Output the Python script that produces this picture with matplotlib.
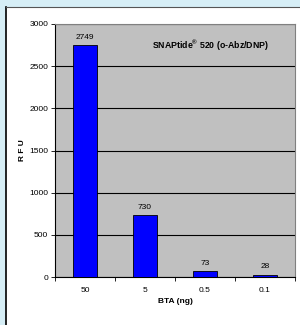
import matplotlib
matplotlib.use("Agg")
import matplotlib.pyplot as plt
from matplotlib.patches import Rectangle

categories = ["50", "5", "0.5", "0.1"]
values = [2749, 730, 73, 28]
y_ticks = [0, 500, 1000, 1500, 2000, 2500, 3000]

plt.rcParams['font.family'] = ['Liberation Sans', 'DejaVu Sans']
plt.rcParams['mathtext.fontset'] = 'custom'
plt.rcParams['mathtext.rm'] = 'Liberation Sans:bold'
plt.rcParams['mathtext.bf'] = 'Liberation Sans:bold'

W, H = 300, 325
fig = plt.figure(figsize=(3, 3.25), dpi=100)
fig.patch.set_facecolor('#d6eef6')
# white panel
fig.patches.append(Rectangle((6 / W, 0), 1 - 6 / W, 1 - 7 / H, transform=fig.transFigure,
                             facecolor='white', edgecolor='none', zorder=-10))
fig.lines.append(plt.Line2D([6 / W, 6 / W], [0, 1 - 7 / H], transform=fig.transFigure,
                            color='black', lw=1.2, zorder=-9))
fig.lines.append(plt.Line2D([6 / W, 1], [1 - 7 / H, 1 - 7 / H], transform=fig.transFigure,
                            color='#555555', lw=0.8, zorder=-9))

left, right, top, bottom = 55, 295, 24, 277
ax = fig.add_axes([left / W, 1 - bottom / H, (right - left) / W, (bottom - top) / H])
ax.set_zorder(1)
ax.set_facecolor('#c0c0c0')

x = list(range(len(categories)))
ax.bar(x, values, width=0.4, color='#0000ff', edgecolor='black', linewidth=0.6, zorder=3)
for xi, v in zip(x, values):
    ax.text(xi, v + 50, str(v), ha='center', va='bottom', fontsize=6, color='black', zorder=4)

ax.set_xlim(-0.5, len(categories) - 0.5)
ax.set_ylim(0, 3000)
ax.set_yticks(y_ticks)
ax.set_yticklabels([str(t) for t in y_ticks], fontsize=6)
ax.set_xticks(x)
ax.set_xticklabels(categories, fontsize=6)
ax.tick_params(axis='x', length=0, pad=7)
ax.set_xticks([i + 0.5 for i in range(-1, len(categories))], minor=True)
ax.tick_params(axis='x', which='minor', length=3, width=0.6, direction='out')
ax.tick_params(axis='y', length=3, width=0.6, direction='out', pad=2)
ax.grid(axis='y', color='black', linewidth=0.8, zorder=1)
ax.set_axisbelow(True)

for s in ['top', 'right']:
    ax.spines[s].set_color('#808080')
    ax.spines[s].set_linewidth(0.8)
for s in ['left', 'bottom']:
    ax.spines[s].set_color('black')
    ax.spines[s].set_linewidth(0.8)

ax.set_ylabel('R F U', fontsize=6, fontweight='bold', labelpad=2)
ax.set_xlabel('BTA (ng)', fontsize=6, fontweight='bold', labelpad=3)

ax.text(0.89, 0.915, 'SNAPtide$^{®}$ 520 (o-Abz/DNP)', transform=ax.transAxes,
        ha='right', va='center', fontsize=6.3, fontweight='bold')

fig.savefig('out.png', dpi=100, facecolor=fig.get_facecolor())
